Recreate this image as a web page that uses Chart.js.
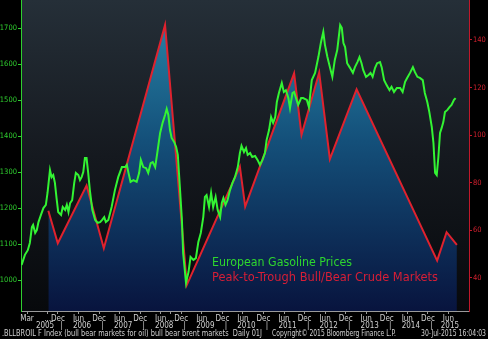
<!DOCTYPE html>
<html><head><meta charset="utf-8">
<script src="https://cdn.jsdelivr.net/npm/chart.js@4/dist/chart.umd.min.js"></script>
<style>html,body{margin:0;padding:0;background:#000;overflow:hidden}#wrap{position:relative;width:488px;height:339px}canvas{display:block}</style>
</head><body><div id="wrap"><canvas id="c" width="488" height="339"></canvas></div>
<script>
// European Gasoline Prices (left axis), dates as decimal years
const gasDates = [2005.03,2005.11,2005.18,2005.23,2005.28,2005.31,2005.36,2005.40,2005.44,2005.50,2005.56,2005.62,2005.66,2005.72,2005.76,2005.80,2005.84,2005.88,2005.92,2005.99,
2006.03,2006.09,2006.13,2006.17,2006.21,2006.26,2006.31,2006.35,2006.41,2006.45,2006.49,2006.53,2006.57,2006.61,2006.65,2006.69,2006.75,2006.82,2006.88,2006.94,2006.99,
2007.04,2007.08,2007.14,2007.22,2007.30,2007.38,2007.47,2007.55,2007.59,2007.63,2007.68,2007.75,2007.83,2007.89,2007.93,2007.99,
2008.06,2008.11,2008.17,2008.22,2008.28,2008.33,2008.40,2008.46,2008.52,2008.56,2008.60,2008.64,2008.68,2008.74,2008.79,2008.83,2008.88,2008.93,2008.96,
2009.03,2009.09,2009.14,2009.21,2009.27,2009.33,2009.39,2009.45,2009.49,2009.53,2009.59,2009.64,2009.69,2009.75,2009.80,2009.86,2009.90,2009.94,2009.99,
2010.04,2010.10,2010.16,2010.22,2010.29,2010.34,2010.38,2010.44,2010.49,2010.53,2010.59,2010.64,2010.71,2010.77,2010.83,2010.89,2010.95,2010.99,
2011.05,2011.10,2011.15,2011.20,2011.24,2011.29,2011.36,2011.41,2011.46,2011.52,2011.56,2011.62,2011.66,2011.72,2011.76,2011.83,2011.88,2011.97,
2012.02,2012.09,2012.17,2012.25,2012.31,2012.37,2012.41,2012.47,2012.53,2012.59,2012.65,2012.71,2012.78,2012.82,2012.86,2012.90,2012.95,
2013.02,2013.09,2013.14,2013.20,2013.25,2013.30,2013.34,2013.41,2013.47,2013.52,2013.57,2013.63,2013.68,2013.75,2013.79,2013.85,2013.91,2013.98,
2014.03,2014.09,2014.16,2014.24,2014.30,2014.36,2014.41,2014.48,2014.55,2014.60,2014.66,2014.72,2014.79,2014.84,2014.90,2014.95,
2015.01,2015.05,2015.09,2015.13,2015.17,2015.21,2015.25,2015.29,2015.33,2015.39,2015.44,2015.49,2015.55,2015.59];
const gasPrices = [1042,1070,1083,1103,1147,1153,1131,1139,1161,1181,1200,1209,1242,1306,1286,1292,1270,1228,1189,1181,
1203,1195,1209,1189,1214,1222,1270,1298,1292,1278,1286,1300,1339,1339,1298,1250,1195,1167,1159,1161,1167,
1175,1161,1167,1203,1250,1286,1314,1314,1320,1298,1273,1278,1273,1298,1334,1314,
1311,1298,1325,1328,1314,1353,1409,1437,1459,1476,1459,1417,1395,1384,1370,1348,1259,1167,1075,
992,1022,1064,1056,1061,1106,1131,1175,1231,1236,1203,1242,1203,1231,1195,1175,1214,1228,1209,
1222,1250,1270,1286,1314,1353,1373,1356,1367,1348,1353,1342,1345,1334,1320,1334,1353,1389,
1417,1453,1437,1453,1495,1520,1548,1523,1528,1506,1478,1520,1523,1501,1487,1506,1506,1501,
1481,1556,1576,1620,1659,1690,1654,1620,1592,1565,1612,1640,1709,1701,1659,1648,1603,
1590,1576,1592,1606,1620,1603,1584,1565,1570,1576,1565,1590,1603,1606,1592,1556,1542,1528,
1537,1523,1534,1534,1523,1551,1562,1576,1592,1578,1565,1562,1556,1520,1495,1467,
1425,1381,1298,1292,1342,1409,1423,1439,1467,1473,1481,1487,1501,1506];

// Peak-to-trough bull/bear crude markets (right axis)
const crudeDates = [2005.68,2005.91,2006.61,2007.03,2008.52,2009.05,2010.34,2010.47,2011.66,2011.84,2012.27,2012.53,2013.18,2015.14,2015.37,2015.62];
const crudeValues = [68.2,54.6,78.8,52.5,146.3,37.1,86.8,70.0,126.0,100.1,126.3,89.9,119.3,47.3,59.2,53.9];

const leftTicks = [1000,1100,1200,1300,1400,1500,1600,1700];
const rightTicks = [40,60,80,100,120,140];
const monthTickDates = [2005.162,2005.664,2005.915,2006.414,2006.915,2007.414,2007.915,2008.414,2008.664,2008.915,2009.414,2009.915,2010.414,2010.915,2011.414,2011.915,2012.414,2012.915,2013.414,2013.915,2014.414,2014.915,2015.414];
const monthTickLabels = ['Mar','...','Dec','Jun','Dec','Jun','Dec','Jun','...','Dec','Jun','Dec','Jun','Dec','Jun','Dec','Jun','Dec','Jun','Dec','Jun','Dec','Jun'];
const yearTickDates = [2005.60,2006.0,2006.5,2007.0,2007.5,2008.0,2008.5,2009.0,2009.5,2010.0,2010.5,2011.0,2011.5,2012.0,2012.5,2013.0,2013.5,2014.0,2014.5,2015.0,2015.45];
const yearTickLabels = ['2005','|','2006','|','2007','|','2008','|','2009','|','2010','|','2011','|','2012','|','2013','|','2014','|','2015'];

const seriesNames = ['European Gasoline Prices','Peak-to-Trough Bull/Bear Crude Markets'];
const footerTexts = ['.BLLBROIL F Index (bull bear markets for oil) bull bear brent markets  Daily 01J','Copyright\u00A9 2015 Bloomberg Finance L.P.','30-Jul-2015 16:04:03'];

const FONT = "'Liberation Sans Narrow','DejaVu Sans Condensed','Liberation Sans',sans-serif";

function fitText(ctx, text, x, y, w, size, color) {
  ctx.save();
  ctx.font = size + 'px ' + FONT;
  ctx.fillStyle = color;
  ctx.textBaseline = 'middle';
  ctx.textAlign = 'left';
  const m = ctx.measureText(text).width;
  ctx.translate(x, y);
  ctx.scale(w / m, 1);
  ctx.fillText(text, 0, 0);
  ctx.restore();
}

const bgPlugin = {
  id: 'bg',
  beforeDraw(chart) {
    const {ctx, chartArea: a} = chart;
    ctx.save();
    ctx.fillStyle = '#000';
    ctx.fillRect(0, 0, chart.width, chart.height);
    const g = ctx.createLinearGradient(0, a.top, 0, a.bottom);
    g.addColorStop(0, '#252f38');
    g.addColorStop(0.5, '#15191f');
    g.addColorStop(1, '#07090c');
    ctx.fillStyle = g;
    ctx.fillRect(a.left, a.top, a.right - a.left, a.bottom - a.top);
    ctx.restore();
  },
  afterDraw(chart) {
    const ctx = chart.ctx;
    fitText(ctx, seriesNames[0], 212, 263, 140, 13, '#2ed62e');
    fitText(ctx, seriesNames[1], 212, 278, 226, 13, '#d81e36');
    fitText(ctx, footerTexts[0], 2, 334, 260, 8, '#d0d0d0');
    fitText(ctx, footerTexts[1], 272, 334, 124, 8, '#d0d0d0');
    fitText(ctx, footerTexts[2], 421, 334, 65, 8, '#d0d0d0');
  }
};

function noPad(s) { s.paddingTop = 0; s.paddingBottom = 0; s.paddingLeft = 0; s.paddingRight = 0; }

const ctx = document.getElementById('c').getContext('2d');
new Chart(ctx, {
  type: 'line',
  data: {
    datasets: [
      {
        label: seriesNames[0],
        data: gasDates.map((d, i) => ({x: d, y: gasPrices[i]})),
        yAxisID: 'y', xAxisID: 'x',
        borderColor: '#33f433', borderWidth: 2, pointRadius: 0, tension: 0, fill: false, order: 0
      },
      {
        label: seriesNames[1],
        data: crudeDates.map((d, i) => ({x: d, y: crudeValues[i]})),
        yAxisID: 'y1', xAxisID: 'x',
        borderColor: '#e0222e', borderWidth: 2, pointRadius: 0, tension: 0, order: 1,
        fill: 'start',
        backgroundColor(c) {
          const a = c.chart.chartArea;
          if (!a) return 'rgba(20,70,110,1)';
          const g = c.chart.ctx.createLinearGradient(0, a.top, 0, a.bottom);
          g.addColorStop(0, '#2a8aac');
          g.addColorStop(0.45, '#14507a');
          g.addColorStop(1, '#08143e');
          return g;
        }
      }
    ]
  },
  options: {
    responsive: false, animation: false, devicePixelRatio: 1,
    layout: {padding: {left: 0, right: 0, top: 0, bottom: 9}},
    plugins: {legend: {display: false}, tooltip: {enabled: false}},
    scales: {
      x: {
        type: 'linear', position: 'bottom', min: 2005.015, max: 2015.915, weight: 0,
        afterBuildTicks(s) { s.ticks = monthTickDates.map(v => ({value: v})); },
        afterFit(s) { s.height = 10; noPad(s); },
        ticks: {autoSkip: false, maxRotation: 0, padding: 0, color: '#d0d0d0', font: {size: 8, family: FONT},
          callback: (v, i) => monthTickLabels[i]},
        grid: {drawOnChartArea: false, tickLength: 3, color: '#9a9a9a'},
        border: {color: '#9a9a9a', width: 1}
      },
      x2: {
        type: 'linear', position: 'bottom', min: 2005.015, max: 2015.915, weight: 1,
        afterBuildTicks(s) { s.ticks = yearTickDates.map(v => ({value: v})); },
        afterFit(s) { s.height = 9; noPad(s); },
        ticks: {autoSkip: false, maxRotation: 0, padding: 0, color: '#d0d0d0', font: {size: 8, family: FONT},
          callback: (v, i) => yearTickLabels[i]},
        grid: {display: false, drawTicks: false},
        border: {display: false}
      },
      y: {
        type: 'linear', position: 'left', min: 913.8, max: 1778.7,
        afterBuildTicks(s) { s.ticks = leftTicks.map(v => ({value: v})); },
        afterFit(s) { s.width = 21; noPad(s); },
        ticks: {padding: 1, color: '#2fcf2f', font: {size: 7.5, family: FONT}, callback: v => String(v)},
        grid: {drawOnChartArea: false, tickLength: 3, color: '#2fcf2f'},
        border: {color: '#2fcf2f', width: 1}
      },
      y1: {
        type: 'linear', position: 'right', min: 26.1, max: 156.8,
        afterBuildTicks(s) { s.ticks = rightTicks.map(v => ({value: v})); },
        afterFit(s) { s.width = 19; noPad(s); },
        ticks: {padding: 1, color: '#d0202e', font: {size: 7.5, family: FONT}, callback: v => String(v)},
        grid: {drawOnChartArea: false, tickLength: 3, color: '#c0182a'},
        border: {color: '#c0182a', width: 1}
      }
    }
  },
  plugins: [bgPlugin]
});
</script>
</body></html>
